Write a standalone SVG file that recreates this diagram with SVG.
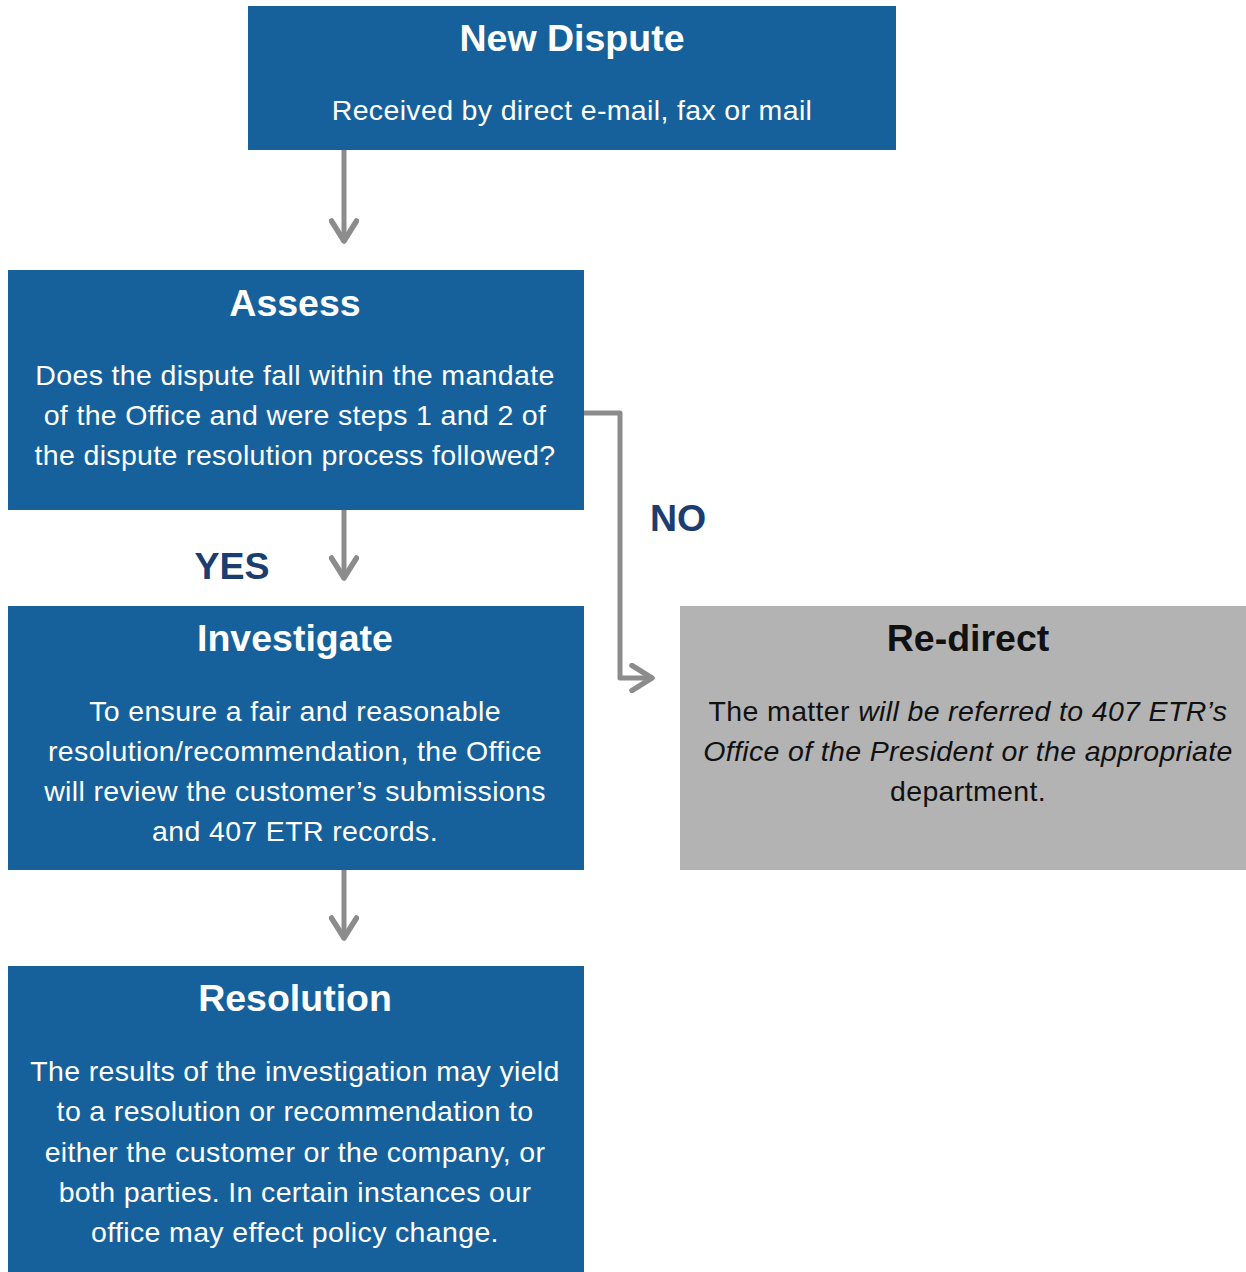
<svg xmlns="http://www.w3.org/2000/svg" width="1246" height="1272" viewBox="0 0 1246 1272">
<defs>
<style>
.box{fill:#16619B}
.gbox{fill:#B3B3B3}
.t{font-family:"Liberation Sans",Arial,sans-serif;font-weight:bold;font-size:37.5px;text-anchor:middle;fill:#fff}
.b{font-family:"Liberation Sans",Arial,sans-serif;font-size:28.5px;text-anchor:middle;fill:#fff;letter-spacing:0.35px}
.dk{fill:#111}
.lbl{font-family:"Liberation Sans",Arial,sans-serif;font-weight:bold;font-size:37.5px;fill:#1B3D6F}
.c{fill:none;stroke:#8C8C8C;stroke-width:5;stroke-linejoin:round}
</style>
<marker id="ah" viewBox="0 0 12 12" refX="10" refY="6" markerWidth="6" markerHeight="6" markerUnits="strokeWidth" orient="auto">
<path d="M2,1 L10,6 L2,11" fill="none" stroke="#8C8C8C" stroke-width="2.2" stroke-linecap="round" stroke-linejoin="round"/>
</marker>
</defs>
<rect width="1246" height="1272" fill="#fff"/>
<g id="connectors">
<path class="c" d="M344,150 V241" marker-end="url(#ah)"/>
<path class="c" d="M344,510 V578" marker-end="url(#ah)"/>
<path class="c" d="M344,870 V938" marker-end="url(#ah)"/>
<path class="c" d="M584,413 H620 V678 H652" marker-end="url(#ah)"/>
<text class="lbl" x="232" y="579" text-anchor="middle">YES</text>
<text class="lbl" x="678" y="531" text-anchor="middle">NO</text>
</g>
<g id="new-dispute">
<rect class="box" x="248" y="6" width="648" height="144"/>
<text class="t" x="572" y="51">New Dispute</text>
<text class="b" x="572" y="120">Received by direct e-mail, fax or mail</text>
</g>
<g id="assess">
<rect class="box" x="8" y="270" width="576" height="240"/>
<text class="t" x="295" y="316">Assess</text>
<text class="b" x="295" y="385">Does the dispute fall within the mandate</text>
<text class="b" x="295" y="425">of the Office and were steps 1 and 2 of</text>
<text class="b" x="295" y="465">the dispute resolution process followed?</text>
</g>
<g id="investigate">
<rect class="box" x="8" y="606" width="576" height="264"/>
<text class="t" x="295" y="651">Investigate</text>
<text class="b" x="295" y="721">To ensure a fair and reasonable</text>
<text class="b" x="295" y="761">resolution/recommendation, the Office</text>
<text class="b" x="295" y="801">will review the customer’s submissions</text>
<text class="b" x="295" y="841">and 407 ETR records.</text>
</g>
<g id="resolution">
<rect class="box" x="8" y="966" width="576" height="306"/>
<text class="t" x="295" y="1011">Resolution</text>
<text class="b" x="295" y="1081">The results of the investigation may yield</text>
<text class="b" x="295" y="1121">to a resolution or recommendation to</text>
<text class="b" x="295" y="1162">either the customer or the company, or</text>
<text class="b" x="295" y="1202">both parties. In certain instances our</text>
<text class="b" x="295" y="1242">office may effect policy change.</text>
</g>
<g id="re-direct">
<rect class="gbox" x="680" y="606" width="566" height="264"/>
<text class="t dk" x="968" y="651">Re-direct</text>
<text class="b dk" x="968" y="721">The matter <tspan font-style="italic">will be referred to 407 ETR’s</tspan></text>
<text class="b dk" x="968" y="761" font-style="italic">Office of the President or the appropriate</text>
<text class="b dk" x="968" y="801">department.</text>
</g>
</svg>
